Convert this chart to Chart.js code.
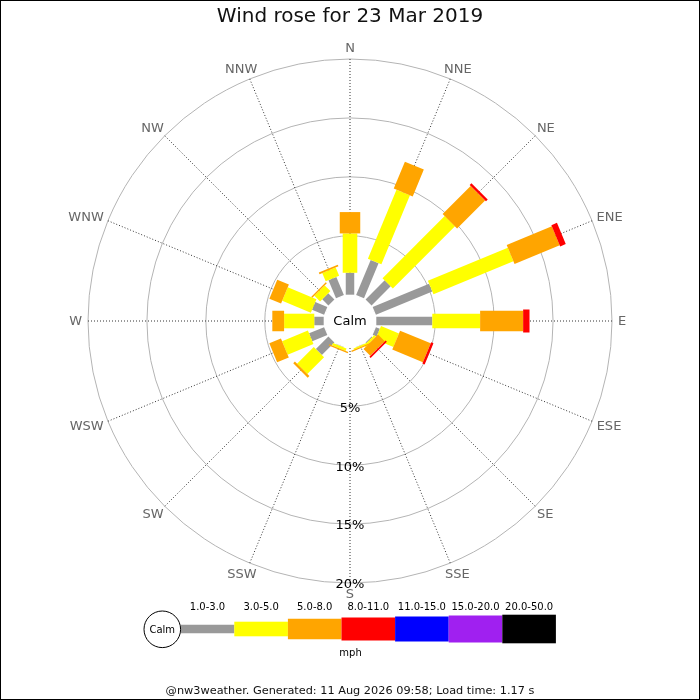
<!DOCTYPE html>
<html>
<head>
<meta charset="utf-8">
<script src="https://cdn.jsdelivr.net/npm/chart.js@4.4.1/dist/chart.umd.min.js"></script>
<style>
html,body{margin:0;padding:0;background:#ffffff;}
canvas{display:block;}
</style>
</head>
<body>
<canvas id="c" width="700" height="700"></canvas>
<script>
// ---------- data ----------
const directions = ['N','NNE','NE','ENE','E','ESE','SE','SSE','S','SSW','SW','WSW','W','WNW','NW','NNW'];
const bandLabels = ['1.0-3.0','3.0-5.0','5.0-8.0','8.0-11.0','11.0-15.0','15.0-20.0','20.0-50.0'];
// percent of time per direction, per speed band (mph)
const band1to3   = [1.86, 3.23, 2.29, 5.18, 4.75, 0.36, 0.08, 0.03, 0, 0.04, 1.50, 1.38, 0.80, 1.11, 0.74, 1.67];
const band3to5   = [3.34, 6.34, 7.46, 7.34, 4.06, 1.65, 0.18, 0.12, 0, 0.22, 2.01, 2.37, 2.56, 2.63, 0.68, 0.76];
const band5to8   = [1.81, 2.47, 3.36, 4.15, 3.65, 2.81, 0.81, 0.10, 0, 0.12, 0.20, 1.07, 1.00, 1.07, 0.12, 0.15];
const band8to11  = [0, 0, 0.21, 0.51, 0.54, 0.21, 0.15, 0, 0, 0, 0, 0, 0, 0, 0, 0];
const band11to15 = [0, 0, 0, 0, 0, 0, 0, 0, 0, 0, 0, 0, 0, 0, 0, 0];
const band15to20 = [0, 0, 0, 0, 0, 0, 0, 0, 0, 0, 0, 0, 0, 0, 0, 0];
const band20to50 = [0, 0, 0, 0, 0, 0, 0, 0, 0, 0, 0, 0, 0, 0, 0, 0];
const ringTicks = [5, 10, 15, 20];
const titleText = 'Wind rose for 23 Mar 2019';
const footerText = '@nw3weather. Generated: 11 Aug 2026 09:58; Load time: 1.17 s';
const calmText = 'Calm';
const unitText = 'mph';

// ---------- styles ----------
const bandColors = ['#999999','#ffff00','#ffa500','#ff0000','#0000ff','#a020f0','#000000'];
const bandWidths = [8.5, 14.6, 20.5, 23, 25, 27, 28.6];
const FONT = 'DejaVu Sans';

const bands = [band1to3, band3to5, band5to8, band8to11, band11to15, band15to20, band20to50];

const rosePlugin = {
  id: 'rose',
  afterDatasetsDraw(chart) {
    const s = chart.scales.r;
    const ctx = chart.ctx;
    const n = directions.length;
    ctx.save();
    // stacked radial bars
    chart.data.datasets.forEach((ds, bi) => {
      ctx.strokeStyle = bandColors[bi];
      ctx.lineWidth = bandWidths[bi];
      ctx.lineCap = 'butt';
      for (let j = 0; j < n; j++) {
        const v = ds.data[j];
        if (!v) continue;
        let base = 0;
        for (let k = 0; k < bi; k++) base += chart.data.datasets[k].data[j];
        const p0 = s.getPointPositionForValue(j, base);
        const p1 = s.getPointPositionForValue(j, base + v);
        ctx.beginPath();
        ctx.moveTo(p0.x, p0.y);
        ctx.lineTo(p1.x, p1.y);
        ctx.stroke();
      }
    });
    // calm circle
    const rc = s.getDistanceFromCenterForValue(0) - 1;
    ctx.beginPath();
    ctx.arc(s.xCenter, s.yCenter, rc, 0, Math.PI * 2);
    ctx.fillStyle = '#ffffff';
    ctx.fill();
    ctx.fillStyle = '#000000';
    ctx.font = '13px "' + FONT + '"';
    ctx.textAlign = 'center';
    ctx.textBaseline = 'middle';
    ctx.fillText(calmText, s.xCenter, s.yCenter + 1);

    // ring labels along S axis
    const sIdx = directions.indexOf('S');
    ringTicks.forEach(v => {
      const p = s.getPointPositionForValue(sIdx, v);
      ctx.fillText(v + '%', p.x, p.y + 2);
    });

    // direction labels
    ctx.fillStyle = '#666666';
    ctx.font = '13px "' + FONT + '"';
    for (let j = 0; j < n; j++) {
      const th = j * Math.PI * 2 / n;
      const p = s.getPointPosition(j, s.drawingArea + 6);
      const w = ctx.measureText(directions[j]).width;
      const h = 10;
      ctx.fillText(directions[j], p.x + Math.sin(th) * w / 2, p.y - Math.cos(th) * h / 2 + 1);
    }

    // legend
    const lx0 = 180.7, segW = 53.6, ly = 629;
    bandLabels.forEach((lab, i) => {
      const x = lx0 + i * segW;
      ctx.fillStyle = bandColors[i];
      ctx.fillRect(x, ly - bandWidths[i] / 2, segW, bandWidths[i]);
      ctx.fillStyle = '#000000';
      ctx.font = '10px "' + FONT + '"';
      ctx.fillText(lab, x + segW / 2, 607);
    });
    ctx.beginPath();
    ctx.arc(162.3, 629.3, 18.3, 0, Math.PI * 2);
    ctx.fillStyle = '#ffffff';
    ctx.fill();
    ctx.strokeStyle = '#000000';
    ctx.lineWidth = 1;
    ctx.stroke();
    ctx.fillStyle = '#000000';
    ctx.font = '10px "' + FONT + '"';
    ctx.fillText(calmText, 162.3, 630);
    ctx.fillText(unitText, 350.5, 653);

    // frame
    ctx.strokeStyle = '#000000';
    ctx.lineWidth = 1;
    ctx.strokeRect(0.5, 0.5, 699, 699);
    ctx.restore();
  }
};

new Chart(document.getElementById('c'), {
  type: 'radar',
  data: {
    labels: directions,
    datasets: bands.map((d, i) => ({
      label: bandLabels[i],
      data: d,
      borderWidth: 0,
      borderColor: 'rgba(0,0,0,0)',
      backgroundColor: 'rgba(0,0,0,0)',
      fill: false,
      pointRadius: 0,
      pointHoverRadius: 0
    }))
  },
  options: {
    responsive: false,
    animation: false,
    layout: { padding: { left: 88, right: 88, top: 0, bottom: 0 } },
    plugins: {
      legend: { display: false },
      tooltip: { enabled: false },
      title: {
        display: true, text: titleText, color: '#111111',
        font: { family: FONT, size: 20, weight: 'normal' },
        padding: { top: 5, bottom: 30 }
      },
      subtitle: {
        display: true, position: 'bottom', text: footerText, color: '#111111',
        font: { family: FONT, size: 11.3, weight: 'normal' },
        padding: { top: 101.4, bottom: 2 }
      }
    },
    scales: {
      r: {
        min: -2.232,
        max: 20,
        startAngle: 0,
        afterBuildTicks: (sc) => { sc.ticks = ringTicks.map(v => ({ value: v })); },
        ticks: { display: false },
        pointLabels: { display: false },
        grid: { color: '#b4b4b4', lineWidth: 1, circular: true },
        angleLines: { display: true, color: '#333333', lineWidth: 1, borderDash: [1, 2] }
      }
    }
  },
  plugins: [rosePlugin]
});
</script>
</body>
</html>
